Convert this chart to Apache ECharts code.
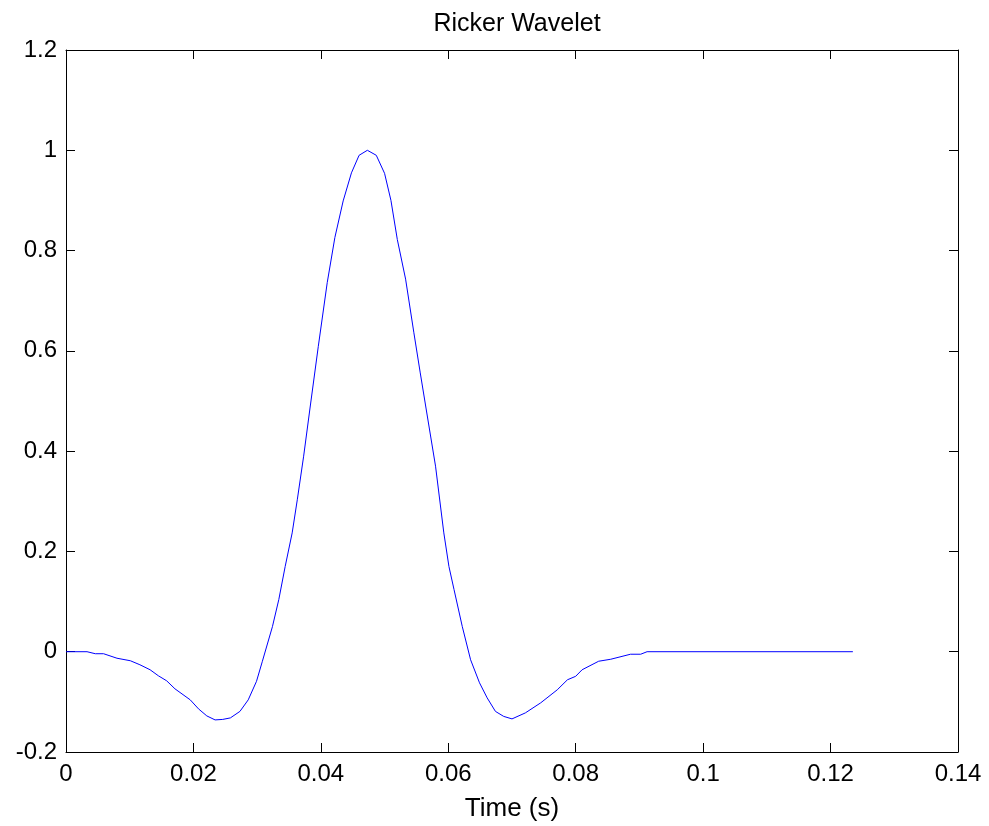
<!DOCTYPE html>
<html>
<head>
<meta charset="utf-8">
<script src="https://cdn.jsdelivr.net/npm/echarts@6/dist/echarts.min.js"></script>
<style>
  html, body { margin: 0; padding: 0; background: #fff; }
  #chart { width: 989px; height: 826px; }
</style>
</head>
<body>
<div id="chart"></div>
<script>
  // time samples (s) and amplitudes
  var times = [
    0, 0.0033, 0.0046, 0.0059, 0.0080, 0.0101, 0.0116, 0.0132, 0.0145, 0.0158,
    0.0171, 0.0195, 0.0208, 0.0221, 0.0234, 0.0246, 0.0258, 0.0273, 0.0286, 0.0299,
    0.0308, 0.0324, 0.0334, 0.0344, 0.0355, 0.0363, 0.0373, 0.0383, 0.0396, 0.0410,
    0.0422, 0.0435, 0.0448, 0.0460, 0.0473, 0.0487, 0.0500, 0.0510, 0.0520, 0.0533,
    0.0546, 0.0556, 0.0565, 0.0580, 0.0593, 0.0601, 0.0609, 0.0622, 0.0635, 0.0649,
    0.0661, 0.0674, 0.0687, 0.0700, 0.0721, 0.0745, 0.0771, 0.0787, 0.0800, 0.0810,
    0.0836, 0.0855, 0.0886, 0.0902, 0.0912, 0.1235
  ];
  var amplitude = [
    0, 0, -0.004, -0.004, -0.013, -0.018, -0.026, -0.036, -0.048, -0.058,
    -0.074, -0.096, -0.114, -0.128, -0.136, -0.135, -0.132, -0.119, -0.096, -0.059,
    -0.020, 0.050, 0.104, 0.170, 0.237, 0.303, 0.390, 0.486, 0.609, 0.736,
    0.826, 0.899, 0.955, 0.990, 1.0, 0.990, 0.954, 0.900, 0.822, 0.743,
    0.636, 0.556, 0.486, 0.370, 0.237, 0.170, 0.124, 0.050, -0.016, -0.062,
    -0.092, -0.119, -0.129, -0.134, -0.122, -0.102, -0.076, -0.056, -0.049, -0.036,
    -0.019, -0.015, -0.005, -0.005, 0, 0
  ];
  var xTicks = { min: 0, max: 0.14, step: 0.02 };
  var yTicks = { min: -0.2, max: 1.2, step: 0.2 };

  var points = times.map(function (t, i) { return [t, amplitude[i]]; });

  var font = 'Arial, "Liberation Sans", sans-serif';
  var black = '#000';

  function fmt(v) {
    return String(parseFloat(v.toFixed(4)));
  }

  function xAxis(pos, showLabel) {
    return {
      type: 'value', position: pos,
      min: xTicks.min, max: xTicks.max, interval: xTicks.step,
      name: showLabel ? 'Time (s)' : '',
      nameLocation: 'middle', nameGap: 44,
      nameTextStyle: { fontFamily: font, fontSize: 26, color: black },
      axisLine: { show: true, onZero: false, lineStyle: { color: black, width: 1 } },
      axisTick: { show: true, inside: true, length: 9, lineStyle: { color: black } },
      axisLabel: { show: showLabel, fontFamily: font, fontSize: 24, color: black, margin: 10, formatter: fmt },
      splitLine: { show: false }
    };
  }

  function yAxis(pos, showLabel) {
    return {
      type: 'value', position: pos,
      min: yTicks.min, max: yTicks.max, interval: yTicks.step,
      axisLine: { show: true, onZero: false, lineStyle: { color: black, width: 1 } },
      axisTick: { show: true, inside: true, length: 9, lineStyle: { color: black } },
      axisLabel: { show: showLabel, fontFamily: font, fontSize: 24, color: black, margin: 9, formatter: fmt },
      splitLine: { show: false }
    };
  }

  var chart = echarts.init(document.getElementById('chart'), null, { renderer: 'canvas' });
  chart.setOption({
    animation: false,
    backgroundColor: '#fff',
    title: {
      text: 'Ricker Wavelet', left: 512, textAlign: 'center', top: 7,
      textStyle: { fontFamily: font, fontSize: 25, fontWeight: 'normal', color: black }
    },
    grid: { left: 66, right: 31, top: 50, bottom: 74, containLabel: false, outerBoundsMode: 'none' },
    xAxis: [xAxis('bottom', true), xAxis('top', false)],
    yAxis: [yAxis('left', true), yAxis('right', false)],
    series: [{
      type: 'line',
      data: points,
      showSymbol: false,
      smooth: false,
      lineStyle: { color: '#0000ff', width: 1 },
      itemStyle: { color: '#0000ff' }
    }]
  });
</script>
</body>
</html>
